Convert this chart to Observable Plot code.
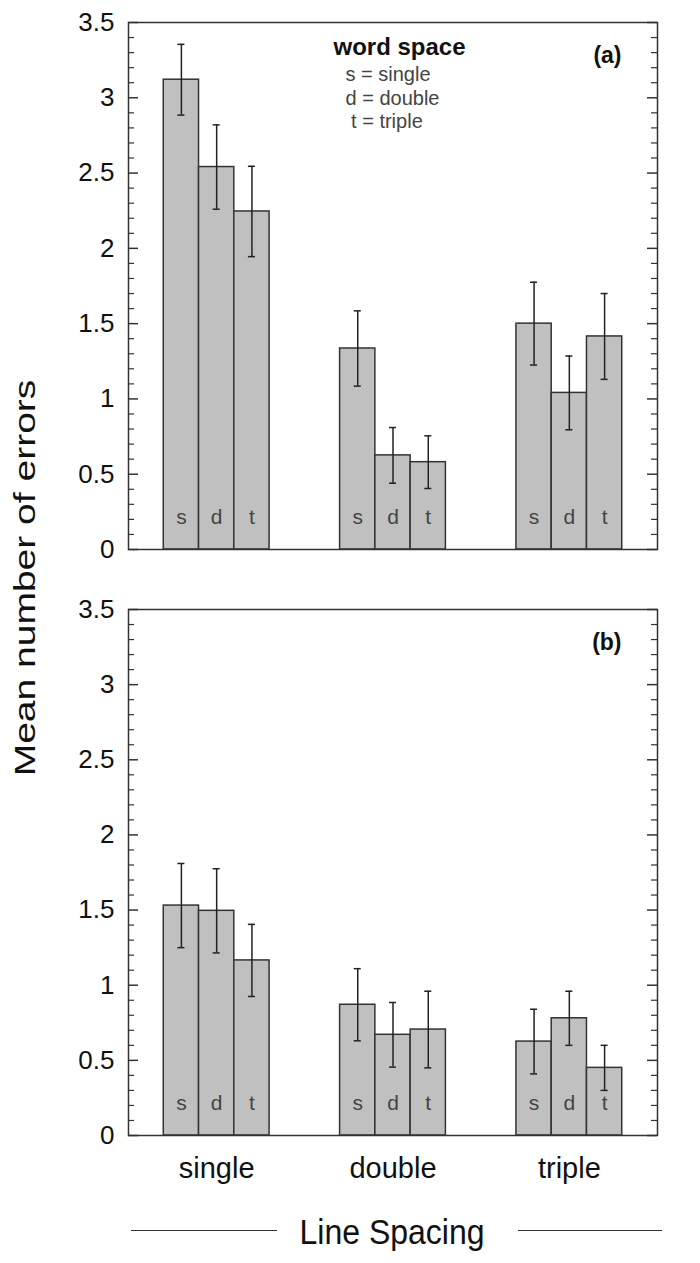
<!DOCTYPE html>
<html>
<head>
<meta charset="utf-8">
<script src="https://cdn.jsdelivr.net/npm/d3@7"></script>
<script src="https://cdn.jsdelivr.net/npm/@observablehq/plot@0.6"></script>
<style>
  body { margin: 0; background: #fff; font-family: "Liberation Sans", Arial, sans-serif; }
  #wrap { position: relative; width: 700px; height: 1263px; }
  #ylabel { position: absolute; left: 25px; top: 578px; transform: translate(-50%, -50%) rotate(-90deg) scaleX(1.3);
            white-space: nowrap; font-size: 30px; color: #111; }
  #caption { position: relative; width: 700px; height: 68px; }
  #caption .t { position: absolute; left: 392px; top: 37px; transform: translate(-50%, -50%) scaleY(1.12); font-size: 32px; color: #111; white-space: nowrap; }
  #caption .l { position: absolute; top: 35px; height: 0; border-top: 1.5px solid #333; }
</style>
</head>
<body>
<div id="wrap"></div>
<script>
// ---- data ----
const groups = ["single", "double", "triple"];      // line spacing (x categories)
const wordSpace = ["s", "d", "t"];                  // word space within each group
// panel (a)
const meansA = [[3.12, 2.54, 2.245], [1.335, 0.625, 0.58], [1.50, 1.04, 1.415]];
const seA    = [[0.235, 0.28, 0.30], [0.25, 0.185, 0.175], [0.275, 0.245, 0.285]];
// panel (b)
const meansB = [[1.53, 1.495, 1.165], [0.87, 0.67, 0.705], [0.625, 0.78, 0.45]];
const seB    = [[0.28, 0.28, 0.24], [0.24, 0.215, 0.255], [0.215, 0.18, 0.15]];
const yMajorTicks = [0, 0.5, 1, 1.5, 2, 2.5, 3, 3.5];
const yMinorTicks = [0.1,0.2,0.3,0.4,0.6,0.7,0.8,0.9,1.1,1.2,1.3,1.4,1.6,1.7,1.8,1.9,2.1,2.2,2.3,2.4,2.6,2.7,2.8,2.9,3.1,3.2,3.3,3.4];
const legendTitle = "word space";
const legendLines = "s = single\nd = double\n t = triple";
const yLabel = "Mean number of errors";
const xLabel = "Line Spacing";

const BAR = 0.2; // bar width in group units
function table(means, ses) {
  return groups.flatMap((g, gi) => wordSpace.map((w, wi) => ({
    group: g, gi, word: w, wi, mean: means[gi][wi], se: ses[gi][wi]
  })));
}
const xc = d => d.gi + (d.wi - 1) * BAR;
const CAP = 0.02;

function panel(data, tag, {height, marginTop, marginBottom, xAxis, legend}) {
  const frameW = 700 - 128 - 43;
  const marks = [
    Plot.rectY(data, {x1: d => xc(d) - BAR / 2, x2: d => xc(d) + BAR / 2, y: "mean",
      fill: "#c0c0c0", stroke: "#333", strokeWidth: 1.5}),
    Plot.ruleX(data, {x: xc, y1: d => d.mean - d.se, y2: d => d.mean + d.se, stroke: "#222", strokeWidth: 1.5}),
    Plot.ruleY(data, {y: d => d.mean + d.se, x1: d => xc(d) - CAP, x2: d => xc(d) + CAP, stroke: "#222", strokeWidth: 1.5}),
    Plot.ruleY(data, {y: d => d.mean - d.se, x1: d => xc(d) - CAP, x2: d => xc(d) + CAP, stroke: "#222", strokeWidth: 1.5}),
    Plot.text(data, {x: xc, text: "word", frameAnchor: "bottom", lineAnchor: "middle", dy: -32, fontSize: 21, fill: "#444"}),
    Plot.frame({stroke: "#333", strokeWidth: 1.5}),
    Plot.tickY(yMajorTicks, {y: d => d, insetRight: frameW - 10, stroke: "#333", strokeWidth: 1.5}),
    Plot.tickY(yMinorTicks, {y: d => d, insetRight: frameW - 6, stroke: "#333", strokeWidth: 1.2}),
    Plot.tickY(yMajorTicks, {y: d => d, insetLeft: frameW - 10, stroke: "#333", strokeWidth: 1.5}),
    Plot.tickY(yMinorTicks, {y: d => d, insetLeft: frameW - 6, stroke: "#333", strokeWidth: 1.2}),
    Plot.axisY({ticks: yMajorTicks, tickFormat: d => `${d}`, tickSize: 0, tickPadding: 14, fontSize: 26, label: null, fill: "#111"}),
    Plot.text([tag], {frameAnchor: "top-right", lineAnchor: "middle", dx: -36, dy: 33, fontSize: 23, fontWeight: "bold", fill: "#111", textAnchor: "end"})
  ];
  if (xAxis) {
    marks.push(Plot.axisX({ticks: [0, 1, 2], tickFormat: i => groups[i], tickSize: 0, tickPadding: 22,
      fontSize: 29, label: null, fill: "#111"}));
  } else {
    marks.push(Plot.axisX({ticks: [], label: null}));
  }
  if (legend) {
    marks.push(Plot.text([legendTitle], {frameAnchor: "top-left", lineAnchor: "middle", dx: 205, dy: 25, fontSize: 24,
      fontWeight: "bold", fill: "#111", textAnchor: "start"}));
    marks.push(Plot.text([legendLines], {frameAnchor: "top-left", dx: 217, dy: 42, lineAnchor: "top",
      lineHeight: 1.17, fontSize: 20, fill: "#444", textAnchor: "start"}));
  }
  return Plot.plot({
    width: 700, height, marginTop, marginBottom, marginLeft: 128, marginRight: 43,
    style: {fontFamily: "'Liberation Sans', Arial, sans-serif", fontSize: "24px", color: "#111", background: "white"},
    x: {domain: [-0.5, 2.5]},
    y: {domain: [0, 3.5]},
    marks
  });
}

const wrap = document.getElementById("wrap");
wrap.appendChild(panel(table(meansA, seA), "(a)", {height: 579, marginTop: 22, marginBottom: 30, xAxis: false, legend: true}));
wrap.appendChild(panel(table(meansB, seB), "(b)", {height: 616, marginTop: 30, marginBottom: 60, xAxis: true, legend: false}));

const cap = document.createElement("div");
cap.id = "caption";
cap.innerHTML = `<div class="l" style="left:131px;width:146px"></div><div class="t"></div><div class="l" style="left:518px;width:144px"></div>`;
cap.querySelector(".t").textContent = xLabel;
wrap.appendChild(cap);

const yl = document.createElement("div");
yl.id = "ylabel";
yl.textContent = yLabel;
wrap.appendChild(yl);
</script>
</body>
</html>
